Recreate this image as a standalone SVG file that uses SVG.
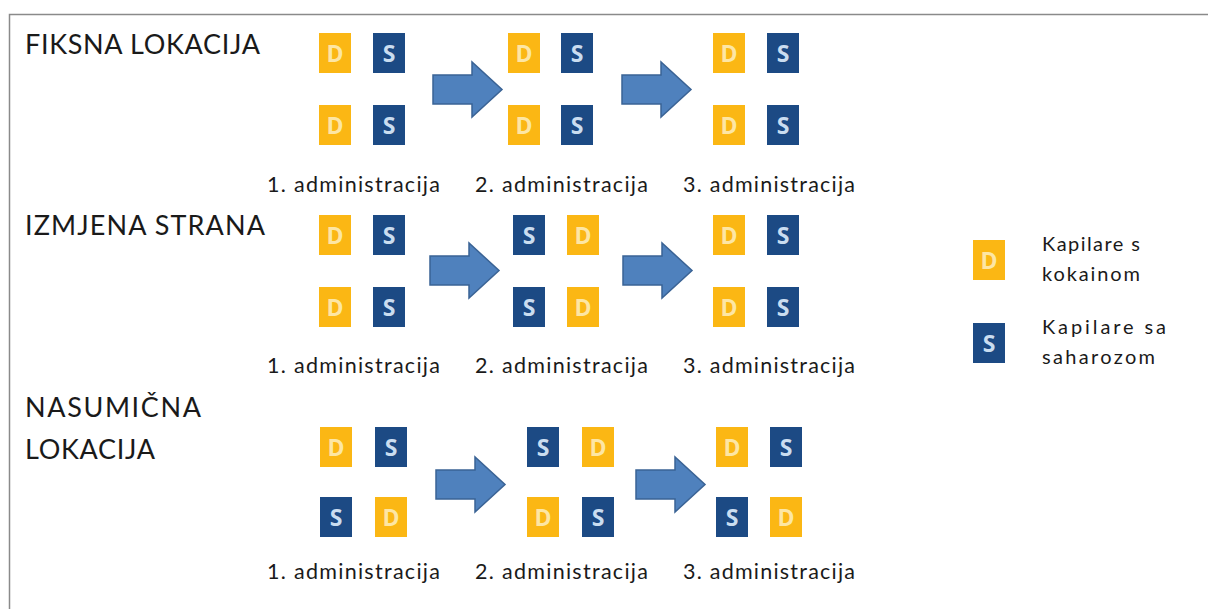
<svg xmlns="http://www.w3.org/2000/svg" xmlns:xlink="http://www.w3.org/1999/xlink" width="1208" height="609" viewBox="0 0 1208 609">
<style>
.title{font-family:Lato,"Open Sans","Liberation Sans",sans-serif;font-size:27px;fill:#1a1a1a}
.lbl{font-family:Lato,"Open Sans","Liberation Sans",sans-serif;font-size:21.5px;fill:#1a1a1a}
.leg{font-family:Lato,"Open Sans","Liberation Sans",sans-serif;font-size:20px;fill:#1a1a1a}
.tl{font-family:"Open Sans","Liberation Sans",sans-serif;font-size:23px;font-weight:bold;text-anchor:middle}
.arrow{fill:#4F81BD;stroke:#3A6395;stroke-width:1.5}
</style>
<defs>
<g id="D"><rect width="32" height="40" fill="#FBB714"/><text class="tl" x="16" y="28.5" fill="#FDE6A4">D</text></g>
<g id="S"><rect width="32" height="40" fill="#1C4A84"/><text class="tl" x="16" y="28.5" fill="#CADDF0">S</text></g>
<path id="arr" d="M0,13 H39 V0 L69,27.5 L39,55 V42 H0 Z"/>
</defs>
<rect width="1208" height="609" fill="#fff"/>
<path d="M9.5,609 V14.5 H1208" fill="none" stroke="#8a8a8a" stroke-width="1.5"/>

<g id="titles">
<text class="title" x="25" y="54" textLength="235">FIKSNA LOKACIJA</text>
<text class="title" x="25" y="235" textLength="240">IZMJENA STRANA</text>
<text class="title" x="25" y="417" textLength="176">NASUMIČNA</text>
<text class="title" x="25" y="459" textLength="130">LOKACIJA</text>
</g>

<g id="row1-a1"><use href="#D" x="319" y="33"/><use href="#S" x="373" y="33"/><use href="#D" x="319" y="105"/><use href="#S" x="373" y="105"/><text class="lbl" x="267" y="192" textLength="173">1. administracija</text></g>
<g id="row1-a2"><use href="#D" x="508" y="33"/><use href="#S" x="561" y="33"/><use href="#D" x="508" y="105"/><use href="#S" x="561" y="105"/><text class="lbl" x="475" y="192" textLength="173">2. administracija</text></g>
<g id="row1-a3"><use href="#D" x="713" y="33"/><use href="#S" x="767" y="33"/><use href="#D" x="713" y="105"/><use href="#S" x="767" y="105"/><text class="lbl" x="683" y="192" textLength="172">3. administracija</text></g>

<g id="row2-a1"><use href="#D" x="319" y="215"/><use href="#S" x="373" y="215"/><use href="#D" x="319" y="287"/><use href="#S" x="373" y="287"/><text class="lbl" x="267" y="373" textLength="173">1. administracija</text></g>
<g id="row2-a2"><use href="#S" x="513" y="215"/><use href="#D" x="567" y="215"/><use href="#S" x="513" y="287"/><use href="#D" x="567" y="287"/><text class="lbl" x="475" y="373" textLength="173">2. administracija</text></g>
<g id="row2-a3"><use href="#D" x="713" y="215"/><use href="#S" x="767" y="215"/><use href="#D" x="713" y="287"/><use href="#S" x="767" y="287"/><text class="lbl" x="683" y="373" textLength="172">3. administracija</text></g>

<g id="row3-a1"><use href="#D" x="320" y="427"/><use href="#S" x="375" y="427"/><use href="#S" x="320" y="497"/><use href="#D" x="375" y="497"/><text class="lbl" x="267" y="579" textLength="173">1. administracija</text></g>
<g id="row3-a2"><use href="#S" x="527" y="427"/><use href="#D" x="582" y="427"/><use href="#D" x="527" y="497"/><use href="#S" x="582" y="497"/><text class="lbl" x="475" y="579" textLength="173">2. administracija</text></g>
<g id="row3-a3"><use href="#D" x="716" y="427"/><use href="#S" x="770" y="427"/><use href="#S" x="716" y="497"/><use href="#D" x="770" y="497"/><text class="lbl" x="683" y="579" textLength="172">3. administracija</text></g>

<g id="connectors">
<use href="#arr" class="arrow" x="433" y="62"/>
<use href="#arr" class="arrow" x="622" y="62"/>
<use href="#arr" class="arrow" x="430" y="243"/>
<use href="#arr" class="arrow" x="623" y="243"/>
<use href="#arr" class="arrow" x="436" y="457"/>
<use href="#arr" class="arrow" x="636" y="457"/>
</g>

<g id="legend">
<g id="legend-d"><use href="#D" x="973" y="240"/><text class="leg" x="1042" y="251" textLength="98">Kapilare s</text><text class="leg" x="1042" y="281" textLength="98">kokainom</text></g>
<g id="legend-s"><use href="#S" x="973" y="323"/><text class="leg" x="1042" y="334" textLength="124">Kapilare sa</text><text class="leg" x="1042" y="364" textLength="113">saharozom</text></g>
</g>
</svg>
